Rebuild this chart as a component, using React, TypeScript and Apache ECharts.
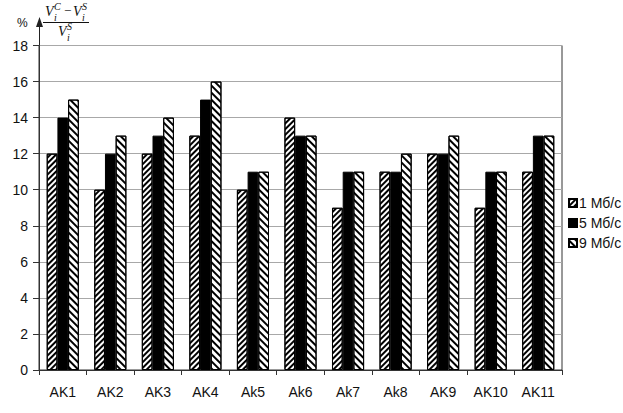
import React, { useEffect, useRef } from "react";
import * as echarts from "echarts";

const categories = ["AK1", "AK2", "AK3", "AK4", "Ak5", "Ak6", "Ak7", "Ak8", "AK9", "AK10", "AK11"];
const seriesNames = ["1 Мб/с", "5 Мб/с", "9 Мб/с"];
const s1 = [12, 10, 12, 13, 10, 14, 9, 11, 12, 9, 11];
const s5 = [14, 12, 13, 15, 11, 13, 11, 11, 12, 11, 13];
const s9 = [15, 13, 14, 16, 11, 13, 11, 12, 13, 11, 13];
const yTicks = { min: 0, max: 18, interval: 2 };

const FONT = "'Liberation Sans', Arial, sans-serif";
const SERIF = "'Liberation Serif', 'Times New Roman', serif";

export default function App() {
  const ref = useRef<HTMLDivElement>(null);
  useEffect(() => {
    if (!ref.current) return;
    const chart = echarts.init(ref.current, undefined, { renderer: "svg" });
    const barBase = {
      type: "bar",
      barWidth: 10.7,
      barGap: "0%",
    };
    const it = (t: string, x: number, y: number, size: number, italic = true) => ({
      type: "text",
      x,
      y,
      style: {
        text: t,
        fontFamily: SERIF,
        fontStyle: italic ? "italic" : "normal",
        fontSize: size,
        fill: "#111",
        textVerticalAlign: "top",
      },
    });
    chart.setOption({
      animation: false,
      backgroundColor: "#fff",
      grid: {
        left: 39,
        right: 61,
        top: 45.5,
        bottom: 43,
        show: true,
        borderColor: "#333",
        borderWidth: 1,
        backgroundColor: "transparent",
      },
      legend: {
        orient: "vertical",
        left: 563,
        top: 191,
        itemWidth: 8,
        itemHeight: 8,
        itemGap: 6,
        icon: "rect",
        textStyle: { fontFamily: FONT, fontSize: 14, color: "#111", padding: [0, 0, 0, -3] },
        data: seriesNames,
      },
      xAxis: {
        type: "category",
        data: categories,
        axisLine: { lineStyle: { color: "#333", width: 1 } },
        axisTick: { show: true, length: 5, lineStyle: { color: "#333" } },
        axisLabel: { fontFamily: FONT, fontSize: 14, color: "#111", margin: 15 },
      },
      yAxis: {
        type: "value",
        min: yTicks.min,
        max: yTicks.max,
        interval: yTicks.interval,
        axisLine: { show: true, lineStyle: { color: "#333", width: 1 } },
        axisTick: { show: true, length: 6, lineStyle: { color: "#333" } },
        axisLabel: { fontFamily: FONT, fontSize: 14, color: "#111", margin: 11 },
        splitLine: { show: true, lineStyle: { color: "#a8a8a8", width: 1 } },
      },
      series: [
        {
          ...barBase,
          name: seriesNames[0],
          data: s1,
          itemStyle: {
            color: "#fff",
            borderColor: "#000",
            borderWidth: 1,
            decal: {
              symbol: "rect",
              symbolSize: 1,
              color: "#000",
              dashArrayX: [1, 0],
              dashArrayY: [1.6, 1.6],
              rotation: -Math.PI / 4,
            },
          },
        },
        {
          ...barBase,
          name: seriesNames[1],
          data: s5,
          itemStyle: { color: "#000", borderColor: "#000", borderWidth: 1 },
        },
        {
          ...barBase,
          name: seriesNames[2],
          data: s9,
          itemStyle: {
            color: "#fff",
            borderColor: "#000",
            borderWidth: 1,
            decal: {
              symbol: "rect",
              symbolSize: 1,
              color: "#000",
              dashArrayX: [1, 0],
              dashArrayY: [1.6, 2.2],
              rotation: Math.PI / 4,
            },
          },
        },
      ],
      graphic: [
        {
          type: "line",
          shape: { x1: 39.5, y1: 46, x2: 39.5, y2: 24 },
          style: { stroke: "#222", lineWidth: 1 },
        },
        {
          type: "polygon",
          shape: { points: [[36, 27], [43, 27], [39.5, 17]] },
          style: { fill: "#222" },
        },
        {
          type: "text",
          x: 17,
          y: 17,
          style: { text: "%", fontFamily: FONT, fontSize: 12, fill: "#111", textVerticalAlign: "top" },
        },
        it("V", 45, 4, 14),
        it("i", 54, 12, 10),
        it("C", 54, 1, 10),
        it("−", 64, 4, 13, false),
        it("V", 73, 4, 14),
        it("i", 82, 12, 10),
        it("S", 82, 1, 10),
        {
          type: "line",
          shape: { x1: 43, y1: 22.5, x2: 89, y2: 22.5 },
          style: { stroke: "#111", lineWidth: 1 },
        },
        it("V", 58, 24, 14),
        it("i", 67, 32, 10),
        it("S", 67, 21, 10),
      ],
    });
    return () => chart.dispose();
  }, []);
  return (
    <div
      ref={ref}
      style={{ position: "fixed", left: 0, top: 0, width: 623, height: 413, background: "#fff" }}
    />
  );
}
